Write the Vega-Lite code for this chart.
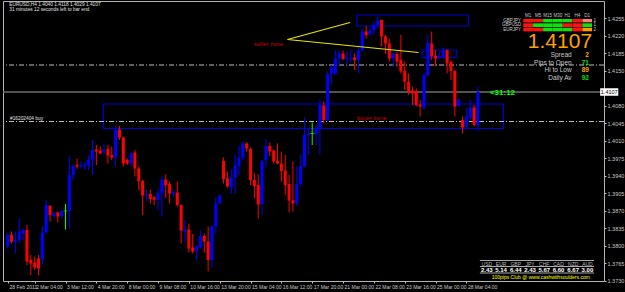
{
"$schema":"https://vega.github.io/schema/vega-lite/v6.json",
"width":601,"height":280,
"autosize":{"type":"none"},
"padding":{"left":3,"top":1,"right":21,"bottom":11},
"config":{"background":"#000000","view":{"stroke":"#b4b4b4","strokeWidth":1},
 "axis":{"grid":false,"domain":false,"tickColor":"#c0c0c0","labelColor":"#c8c8c8","labelFont":"Liberation Sans"},
 "text":{"font":"Liberation Sans"}},
"resolve":{"axis":{"x":"independent","y":"independent"}},
"datasets":{
"candles":[
{"i":0,"o":1.3798,"h":1.3826,"l":1.3794,"c":1.3821},
{"i":1,"o":1.3821,"h":1.3828,"l":1.3804,"c":1.3808},
{"i":2,"o":1.3808,"h":1.3828,"l":1.3784,"c":1.3811},
{"i":3,"o":1.3811,"h":1.3854,"l":1.3804,"c":1.3828},
{"i":4,"o":1.3824,"h":1.3834,"l":1.3811,"c":1.3831},
{"i":5,"o":1.3831,"h":1.3841,"l":1.3761,"c":1.3768},
{"i":6,"o":1.3771,"h":1.3781,"l":1.3741,"c":1.3764},
{"i":7,"o":1.3766,"h":1.3778,"l":1.3751,"c":1.3756},
{"i":8,"o":1.3774,"h":1.3781,"l":1.3741,"c":1.3754},
{"i":9,"o":1.3773,"h":1.3838,"l":1.3761,"c":1.3826},
{"i":10,"o":1.3826,"h":1.3891,"l":1.3824,"c":1.3881},
{"i":11,"o":1.3879,"h":1.3881,"l":1.3848,"c":1.3861},
{"i":12,"o":1.3859,"h":1.3868,"l":1.3856,"c":1.3864},
{"i":13,"o":1.3866,"h":1.3868,"l":1.3846,"c":1.3858},
{"i":14,"o":1.3859,"h":1.3871,"l":1.3854,"c":1.3868},
{"i":15,"o":1.3869,"h":1.3883,"l":1.3832,"c":1.3869},
{"i":16,"o":1.3869,"h":1.3978,"l":1.3834,"c":1.3941},
{"i":17,"o":1.3941,"h":1.3961,"l":1.3931,"c":1.396},
{"i":18,"o":1.3961,"h":1.3974,"l":1.3954,"c":1.3958},
{"i":19,"o":1.3958,"h":1.3968,"l":1.3954,"c":1.396},
{"i":20,"o":1.3958,"h":1.3968,"l":1.3951,"c":1.3961},
{"i":21,"o":1.396,"h":1.3981,"l":1.3951,"c":1.3972},
{"i":22,"o":1.3972,"h":1.4011,"l":1.3941,"c":1.3991},
{"i":23,"o":1.3992,"h":1.4001,"l":1.3961,"c":1.3988},
{"i":24,"o":1.399,"h":1.3998,"l":1.3983,"c":1.3984},
{"i":25,"o":1.3988,"h":1.4004,"l":1.3981,"c":1.3991},
{"i":26,"o":1.3993,"h":1.4001,"l":1.3964,"c":1.398},
{"i":27,"o":1.3981,"h":1.3998,"l":1.3971,"c":1.3976},
{"i":28,"o":1.3976,"h":1.4039,"l":1.3958,"c":1.4032},
{"i":29,"o":1.4032,"h":1.4039,"l":1.4011,"c":1.4016},
{"i":30,"o":1.4016,"h":1.4018,"l":1.3958,"c":1.3964},
{"i":31,"o":1.3971,"h":1.3974,"l":1.3961,"c":1.3964},
{"i":32,"o":1.3964,"h":1.3988,"l":1.3958,"c":1.3984},
{"i":33,"o":1.3986,"h":1.3991,"l":1.3938,"c":1.3954},
{"i":34,"o":1.3954,"h":1.3958,"l":1.3911,"c":1.3929},
{"i":35,"o":1.3929,"h":1.3931,"l":1.3861,"c":1.39},
{"i":36,"o":1.39,"h":1.3911,"l":1.3888,"c":1.3902},
{"i":37,"o":1.3903,"h":1.3912,"l":1.3884,"c":1.3893},
{"i":38,"o":1.3896,"h":1.3899,"l":1.3881,"c":1.3892},
{"i":39,"o":1.3891,"h":1.3914,"l":1.3871,"c":1.3904},
{"i":40,"o":1.3904,"h":1.3939,"l":1.3858,"c":1.3931},
{"i":41,"o":1.3932,"h":1.3942,"l":1.3895,"c":1.3921},
{"i":42,"o":1.3923,"h":1.3928,"l":1.3884,"c":1.3904},
{"i":43,"o":1.3903,"h":1.3912,"l":1.3898,"c":1.3906},
{"i":44,"o":1.3906,"h":1.3928,"l":1.3878,"c":1.3881},
{"i":45,"o":1.3881,"h":1.3882,"l":1.3804,"c":1.383},
{"i":46,"o":1.3828,"h":1.3851,"l":1.3806,"c":1.3832},
{"i":47,"o":1.3832,"h":1.3844,"l":1.3786,"c":1.3794},
{"i":48,"o":1.3796,"h":1.3823,"l":1.3784,"c":1.3788},
{"i":49,"o":1.3789,"h":1.3801,"l":1.377,"c":1.3798},
{"i":50,"o":1.3796,"h":1.383,"l":1.3794,"c":1.3819},
{"i":51,"o":1.3819,"h":1.3824,"l":1.3786,"c":1.3808},
{"i":52,"o":1.3808,"h":1.3838,"l":1.3748,"c":1.3771},
{"i":53,"o":1.3771,"h":1.3841,"l":1.3756,"c":1.3838},
{"i":54,"o":1.3838,"h":1.3896,"l":1.3824,"c":1.3884},
{"i":55,"o":1.3884,"h":1.3902,"l":1.3883,"c":1.39},
{"i":56,"o":1.3969,"h":1.3976,"l":1.3924,"c":1.3933},
{"i":57,"o":1.3934,"h":1.3948,"l":1.3916,"c":1.3918},
{"i":58,"o":1.3916,"h":1.3951,"l":1.3904,"c":1.3936},
{"i":59,"o":1.3936,"h":1.3982,"l":1.3904,"c":1.396},
{"i":60,"o":1.3959,"h":1.3999,"l":1.3941,"c":1.3976},
{"i":61,"o":1.3976,"h":1.4008,"l":1.3971,"c":1.4004},
{"i":62,"o":1.4004,"h":1.4006,"l":1.3988,"c":1.3994},
{"i":63,"o":1.3993,"h":1.3996,"l":1.3921,"c":1.3931},
{"i":64,"o":1.3931,"h":1.3944,"l":1.3894,"c":1.3919},
{"i":65,"o":1.3921,"h":1.3942,"l":1.3854,"c":1.3882},
{"i":66,"o":1.3883,"h":1.3971,"l":1.3861,"c":1.3969},
{"i":67,"o":1.3971,"h":1.4014,"l":1.3956,"c":1.3999},
{"i":68,"o":1.3999,"h":1.4006,"l":1.3979,"c":1.3988},
{"i":69,"o":1.399,"h":1.3992,"l":1.3964,"c":1.3968},
{"i":70,"o":1.3969,"h":1.4004,"l":1.3963,"c":1.3964},
{"i":71,"o":1.3964,"h":1.3988,"l":1.3928,"c":1.3949},
{"i":72,"o":1.395,"h":1.3981,"l":1.3901,"c":1.3921},
{"i":73,"o":1.3923,"h":1.3941,"l":1.3866,"c":1.389},
{"i":74,"o":1.389,"h":1.3968,"l":1.3868,"c":1.3884},
{"i":75,"o":1.3884,"h":1.3958,"l":1.3879,"c":1.3923},
{"i":76,"o":1.3923,"h":1.3981,"l":1.3918,"c":1.3959},
{"i":77,"o":1.3958,"h":1.4056,"l":1.3956,"c":1.4021},
{"i":78,"o":1.4021,"h":1.4034,"l":1.3981,"c":1.4024},
{"i":79,"o":1.4024,"h":1.4046,"l":1.4001,"c":1.4024},
{"i":80,"o":1.4023,"h":1.4041,"l":1.4001,"c":1.4034},
{"i":81,"o":1.4034,"h":1.4092,"l":1.3982,"c":1.4081},
{"i":82,"o":1.408,"h":1.4088,"l":1.4044,"c":1.4051},
{"i":83,"o":1.4051,"h":1.4148,"l":1.4048,"c":1.4143},
{"i":84,"o":1.4144,"h":1.4161,"l":1.4124,"c":1.4156},
{"i":85,"o":1.4143,"h":1.4191,"l":1.4141,"c":1.4174},
{"i":86,"o":1.4174,"h":1.4191,"l":1.4161,"c":1.4184},
{"i":87,"o":1.4184,"h":1.419,"l":1.4171,"c":1.4173},
{"i":88,"o":1.4173,"h":1.4188,"l":1.4161,"c":1.4176},
{"i":89,"o":1.4174,"h":1.4192,"l":1.4166,"c":1.4176},
{"i":90,"o":1.4176,"h":1.4184,"l":1.4151,"c":1.4171},
{"i":91,"o":1.4171,"h":1.4201,"l":1.4144,"c":1.419},
{"i":92,"o":1.419,"h":1.4234,"l":1.4188,"c":1.4228},
{"i":93,"o":1.4228,"h":1.4239,"l":1.4214,"c":1.4221},
{"i":94,"o":1.4223,"h":1.4238,"l":1.4218,"c":1.423},
{"i":95,"o":1.423,"h":1.4248,"l":1.4221,"c":1.4241},
{"i":96,"o":1.4241,"h":1.4258,"l":1.4234,"c":1.425},
{"i":97,"o":1.4251,"h":1.4252,"l":1.4198,"c":1.4218},
{"i":98,"o":1.4218,"h":1.4221,"l":1.4184,"c":1.4204},
{"i":99,"o":1.4204,"h":1.4214,"l":1.4168,"c":1.4174},
{"i":100,"o":1.4174,"h":1.4188,"l":1.4158,"c":1.4184},
{"i":101,"o":1.4183,"h":1.4188,"l":1.4158,"c":1.4168},
{"i":102,"o":1.4171,"h":1.4221,"l":1.4144,"c":1.4148},
{"i":103,"o":1.4149,"h":1.4168,"l":1.4111,"c":1.4128},
{"i":104,"o":1.4128,"h":1.4144,"l":1.4101,"c":1.4108},
{"i":105,"o":1.411,"h":1.4118,"l":1.4081,"c":1.4104},
{"i":106,"o":1.4109,"h":1.4114,"l":1.4078,"c":1.4081},
{"i":107,"o":1.4082,"h":1.4091,"l":1.4058,"c":1.4078},
{"i":108,"o":1.4076,"h":1.4146,"l":1.4071,"c":1.4141},
{"i":109,"o":1.4141,"h":1.4221,"l":1.4138,"c":1.4206},
{"i":110,"o":1.4204,"h":1.4228,"l":1.4171,"c":1.4178},
{"i":111,"o":1.4179,"h":1.4191,"l":1.4158,"c":1.4174},
{"i":112,"o":1.4176,"h":1.4188,"l":1.4172,"c":1.4179},
{"i":113,"o":1.4178,"h":1.4196,"l":1.4174,"c":1.4191},
{"i":114,"o":1.4191,"h":1.4192,"l":1.4144,"c":1.4164},
{"i":115,"o":1.4168,"h":1.4168,"l":1.4131,"c":1.4149},
{"i":116,"o":1.4149,"h":1.4151,"l":1.4058,"c":1.4078},
{"i":117,"o":1.4079,"h":1.4094,"l":1.4078,"c":1.4092},
{"i":118,"o":1.4051,"h":1.4058,"l":1.4024,"c":1.4036},
{"i":119,"o":1.4038,"h":1.4074,"l":1.4034,"c":1.4058},
{"i":120,"o":1.4056,"h":1.4091,"l":1.4051,"c":1.4076},
{"i":121,"o":1.4076,"h":1.4081,"l":1.4038,"c":1.4041},
{"i":122,"o":1.404,"h":1.4118,"l":1.4029,"c":1.4107}
],
"cells":[
{"x1":133.75,"x2":136.3,"y1":1.4253,"y2":1.42464,"s":"dn"},
{"x1":136.3,"x2":138.9,"y1":1.4253,"y2":1.42464,"s":"dn"},
{"x1":138.9,"x2":141.4,"y1":1.4253,"y2":1.42464,"s":"up"},
{"x1":141.4,"x2":144.0,"y1":1.4253,"y2":1.42464,"s":"up"},
{"x1":144.0,"x2":146.5,"y1":1.4253,"y2":1.42464,"s":"up"},
{"x1":146.5,"x2":149.1,"y1":1.4253,"y2":1.42464,"s":"dn"},
{"x1":149.1,"x2":151.6,"y1":1.4253,"y2":1.42464,"s":"wk"},
{"x1":133.75,"x2":136.3,"y1":1.42444,"y2":1.4237,"s":"dn"},
{"x1":136.3,"x2":138.9,"y1":1.42444,"y2":1.4237,"s":"up"},
{"x1":138.9,"x2":141.4,"y1":1.42444,"y2":1.4237,"s":"up"},
{"x1":141.4,"x2":144.0,"y1":1.42444,"y2":1.4237,"s":"up"},
{"x1":144.0,"x2":146.5,"y1":1.42444,"y2":1.4237,"s":"dn"},
{"x1":146.5,"x2":149.1,"y1":1.42444,"y2":1.4237,"s":"dn"},
{"x1":149.1,"x2":151.6,"y1":1.42444,"y2":1.4237,"s":"up"},
{"x1":133.75,"x2":136.3,"y1":1.42356,"y2":1.42284,"s":"dn"},
{"x1":136.3,"x2":138.9,"y1":1.42356,"y2":1.42284,"s":"dn"},
{"x1":138.9,"x2":141.4,"y1":1.42356,"y2":1.42284,"s":"up"},
{"x1":141.4,"x2":144.0,"y1":1.42356,"y2":1.42284,"s":"up"},
{"x1":144.0,"x2":146.5,"y1":1.42356,"y2":1.42284,"s":"up"},
{"x1":146.5,"x2":149.1,"y1":1.42356,"y2":1.42284,"s":"dn"},
{"x1":149.1,"x2":151.6,"y1":1.42356,"y2":1.42284,"s":"or"}
]
},
"layer":[
{"data":{"values":[{"x1":24.8,"x2":128.6,"y1":1.4083,"y2":1.4034},{"x1":90.6,"x2":119.5,"y1":1.4261,"y2":1.4239},{"x1":107.5,"x2":116.4,"y1":1.4191,"y2":1.4176}]},
 "mark":{"type":"rect","fillOpacity":0,"stroke":"#0000d0","strokeWidth":1.2},
 "encoding":{"x":{"field":"x1","type":"quantitative","axis":null,"title":null},"x2":{"field":"x2"},"y":{"field":"y1","type":"quantitative","axis":null,"title":null},"y2":{"field":"y2"}}},
{"data":{"values":[{"p":1.4161},{"p":1.4048}]},
 "mark":{"type":"rule","color":"#bdbdbd","strokeDash":[5,2,1,2],"strokeWidth":1},
 "encoding":{"y":{"field":"p","type":"quantitative","axis":null,"title":null}}},
{"data":{"values":[{"p":1.4107}]},
 "mark":{"type":"rule","color":"#6e6e6e","strokeWidth":1.3},
 "encoding":{"y":{"field":"p","type":"quantitative","axis":null,"title":null}}},
{"data":{"name":"candles"},
 "mark":{"type":"rule","strokeWidth":1},
 "encoding":{
  "x":{"field":"i","type":"quantitative","title":null,"scale":{"domain":[0.08,153.4],"nice":false,"zero":false},
   "axis":{"values":[0.1,7,15,23,31,39,47,55,63,71,79,87,95,103,111,119],"labelExpr":"datum.value < 1 ? '28 Feb 2011' : ['2 Mar 04:00','3 Mar 12:00','4 Mar 20:00','8 Mar 00:00','9 Mar 08:00','10 Mar 16:00','13 Mar 20:00','15 Mar 04:00','16 Mar 12:00','17 Mar 20:00','21 Mar 00:00','22 Mar 08:00','23 Mar 16:00','25 Mar 00:00','28 Mar 04:00'][round((datum.value-7)/8)]","labelAlign":"left","labelBaseline":"top","labelFontSize":5,"labelPadding":1,"labelOffset":1,"tickSize":2,"labelOverlap":false,"labelBound":false,"labelFlush":false,"title":null}},
  "y":{"field":"l","type":"quantitative","title":null,"scale":{"domain":[1.3729,1.4289],"nice":false,"zero":false},
   "axis":{"orient":"right","values":[1.4255,1.422,1.4185,1.415,1.408,1.4045,1.401,1.3975,1.394,1.3905,1.387,1.3835,1.38,1.3765,1.373],"format":".4f","labelFontSize":5.5,"labelPadding":1,"tickSize":2,"labelOverlap":false,"labelBound":false,"labelFlush":false,"title":null}},
  "y2":{"field":"h"},
  "color":{"condition":[{"test":"datum.c > datum.o","value":"#0000ff"},{"test":"datum.c < datum.o","value":"#ff0000"}],"value":"#00ff00"}}},
{"data":{"name":"candles"},
 "mark":{"type":"bar","size":3},
 "encoding":{
  "x":{"field":"i","type":"quantitative","axis":null,"title":null},
  "y":{"field":"o","type":"quantitative","axis":null,"title":null},
  "y2":{"field":"c"},
  "color":{"condition":[{"test":"datum.c > datum.o","value":"#0000ff"},{"test":"datum.c < datum.o","value":"#ff0000"}],"value":"#00ff00"}}},
{"data":{"name":"candles"},
 "transform":[{"filter":"datum.o == datum.c"}],
 "mark":{"type":"tick","orient":"horizontal","size":4,"thickness":1,"color":"#00ff00"},
 "encoding":{
  "x":{"field":"i","type":"quantitative","axis":null,"title":null},
  "y":{"field":"o","type":"quantitative","axis":null,"title":null}}},
{"data":{"values":[{"x1":72.6,"y1":1.4212,"x2":88.8,"y2":1.4246},{"x1":72.6,"y1":1.4212,"x2":106.6,"y2":1.4186}]},
 "mark":{"type":"rule","color":"#e6e600","strokeWidth":1.2},
 "encoding":{"x":{"field":"x1","type":"quantitative","axis":null,"title":null},"x2":{"field":"x2"},"y":{"field":"y1","type":"quantitative","axis":null,"title":null},"y2":{"field":"y2"}}},
{"data":{"name":"cells"},
 "mark":{"type":"rect"},
 "encoding":{"x":{"field":"x1","type":"quantitative","axis":null,"title":null},"x2":{"field":"x2"},"y":{"field":"y1","type":"quantitative","axis":null,"title":null},"y2":{"field":"y2"},
  "color":{"field":"s","type":"nominal","legend":null,"scale":{"domain":["dn","up","wk","or"],"range":["#ff1010","#10e010","#ff8070","#ff9a00"]}}}},
{"data":{"values":[{"x1":122.5,"x2":152.1,"p":1.377},{"x1":122.5,"x2":152.1,"p":1.3758},{"x1":122.5,"x2":152.1,"p":1.3745}]},
 "mark":{"type":"rule","color":"#a8a8a8","strokeWidth":1},
 "encoding":{"x":{"field":"x1","type":"quantitative","axis":null,"title":null},"x2":{"field":"x2"},"y":{"field":"p","type":"quantitative","axis":null,"title":null}}},
{"data":{"values":[{"x":63.9,"p":1.4203,"t":"seller zone"},{"x":90.6,"p":1.4056,"t":"buyer zone"}]},
 "mark":{"type":"text","align":"left","baseline":"middle","fontSize":6,"color":"#d00000"},
 "encoding":{"x":{"field":"x","type":"quantitative","axis":null,"title":null},"y":{"field":"p","type":"quantitative","axis":null,"title":null},"text":{"field":"t"}}},
{"data":{"values":[{"x":125.1,"p":1.4106,"t":"<31:12"}]},
 "mark":{"type":"text","align":"left","baseline":"middle","fontSize":8,"fontWeight":"bold","color":"#00ff00"},
 "encoding":{"x":{"field":"x","type":"quantitative","axis":null,"title":null},"y":{"field":"p","type":"quantitative","axis":null,"title":null},"text":{"field":"t"}}},
{"data":{"values":[{"x":0.6,"p":1.4054,"t":"#16202404 buy"},{"x":0.4,"p":1.4282,"t":"EURUSD,H4  1.4040 1.4118 1.4029 1.4107"},{"x":0.4,"p":1.4271,"t":"31 minutes 12 seconds left to bar end"}]},
 "mark":{"type":"text","align":"left","baseline":"middle","fontSize":4.8,"color":"#e0e0e0"},
 "encoding":{"x":{"field":"x","type":"quantitative","axis":null,"title":null},"y":{"field":"p","type":"quantitative","axis":null,"title":null},"text":{"field":"t"}}},
{"data":{"values":[{"x":151.6,"p":1.4195,"t":"1.4107"}]},
 "mark":{"type":"text","align":"right","baseline":"alphabetic","fontSize":21,"color":"#ffa200"},
 "encoding":{"x":{"field":"x","type":"quantitative","axis":null,"title":null},"y":{"field":"p","type":"quantitative","axis":null,"title":null},"text":{"field":"t"}}},
{"data":{"values":[{"x":146.3,"p":1.4181,"t":"Spread"},{"x":146.3,"p":1.4166,"t":"Pips to Open"},{"x":146.3,"p":1.4151,"t":"Hi to Low"},{"x":146.3,"p":1.4136,"t":"Daily Av"}]},
 "mark":{"type":"text","align":"right","baseline":"middle","fontSize":6.5,"color":"#c8c8c8"},
 "encoding":{"x":{"field":"x","type":"quantitative","axis":null,"title":null},"y":{"field":"p","type":"quantitative","axis":null,"title":null},"text":{"field":"t"}}},
{"data":{"values":[{"x":150.8,"p":1.4181,"t":"2"},{"x":150.8,"p":1.4151,"t":"89"}]},
 "mark":{"type":"text","align":"right","baseline":"middle","fontSize":6.5,"fontWeight":"bold","color":"#ffa200"},
 "encoding":{"x":{"field":"x","type":"quantitative","axis":null,"title":null},"y":{"field":"p","type":"quantitative","axis":null,"title":null},"text":{"field":"t"}}},
{"data":{"values":[{"x":150.8,"p":1.4166,"t":"71"},{"x":150.8,"p":1.4136,"t":"92"}]},
 "mark":{"type":"text","align":"right","baseline":"middle","fontSize":6.5,"fontWeight":"bold","color":"#00e000"},
 "encoding":{"x":{"field":"x","type":"quantitative","axis":null,"title":null},"y":{"field":"p","type":"quantitative","axis":null,"title":null},"text":{"field":"t"}}},
{"data":{"values":[{"x":133.2,"p":1.425,"t":"GBPJPY"},{"x":133.2,"p":1.4241,"t":"GBPUSD"},{"x":133.2,"p":1.4232,"t":"EURJPY"}]},
 "mark":{"type":"text","align":"right","baseline":"middle","fontSize":4.5,"color":"#d0d0d0"},
 "encoding":{"x":{"field":"x","type":"quantitative","axis":null,"title":null},"y":{"field":"p","type":"quantitative","axis":null,"title":null},"text":{"field":"t"}}},
{"data":{"values":[{"x":135.0,"p":1.4259,"t":"M1"},{"x":137.6,"p":1.4259,"t":"M5"},{"x":140.1,"p":1.4259,"t":"M15"},{"x":142.7,"p":1.4259,"t":"M30"},{"x":145.2,"p":1.4259,"t":"H1"},{"x":147.8,"p":1.4259,"t":"H4"},{"x":150.3,"p":1.4259,"t":"D1"},{"x":152.3,"p":1.425,"t":"1"},{"x":152.3,"p":1.4241,"t":"1"},{"x":152.3,"p":1.4232,"t":"2"}]},
 "mark":{"type":"text","align":"center","baseline":"middle","fontSize":4.5,"color":"#c8c8c8"},
 "encoding":{"x":{"field":"x","type":"quantitative","axis":null,"title":null},"y":{"field":"p","type":"quantitative","axis":null,"title":null},"text":{"field":"t"}}},
{"data":{"values":[{"x":124.3,"t":"USD"},{"x":128.0,"t":"EUR"},{"x":131.8,"t":"GBP"},{"x":135.5,"t":"JPY"},{"x":139.2,"t":"CHF"},{"x":142.9,"t":"CAD"},{"x":146.7,"t":"NZD"},{"x":150.4,"t":"AUD"}]},
 "mark":{"type":"text","align":"center","baseline":"middle","fontSize":5,"color":"#bcbcbc"},
 "encoding":{"x":{"field":"x","type":"quantitative","axis":null,"title":null},"y":{"datum":1.3763,"type":"quantitative","axis":null,"title":null},"text":{"field":"t"}}},
{"data":{"values":[{"x":124.3,"t":"2.43"},{"x":128.0,"t":"5.14"},{"x":131.8,"t":"6.44"},{"x":135.5,"t":"2.43"},{"x":139.2,"t":"5.67"},{"x":142.9,"t":"6.60"},{"x":146.7,"t":"6.67"},{"x":150.4,"t":"3.00"}]},
 "mark":{"type":"text","align":"center","baseline":"middle","fontSize":6,"fontWeight":"bold","color":"#ffffff"},
 "encoding":{"x":{"field":"x","type":"quantitative","axis":null,"title":null},"y":{"datum":1.3751,"type":"quantitative","axis":null,"title":null},"text":{"field":"t"}}},
{"data":{"values":[{"x":138.3,"p":1.3738,"t":"100pips Club @ www.cashwithsoulders.com"}]},
 "mark":{"type":"text","align":"center","baseline":"middle","fontSize":5,"color":"#ffff00"},
 "encoding":{"x":{"field":"x","type":"quantitative","axis":null,"title":null},"y":{"field":"p","type":"quantitative","axis":null,"title":null},"text":{"field":"t"}}},
{"data":{"values":[{"x1":153.7,"x2":158.4,"y1":1.41145,"y2":1.40995}]},
 "mark":{"type":"rect","color":"#ffffff","clip":false},
 "encoding":{"x":{"field":"x1","type":"quantitative","axis":null,"title":null},"x2":{"field":"x2"},"y":{"field":"y1","type":"quantitative","axis":null,"title":null},"y2":{"field":"y2"}}},
{"data":{"values":[{"x":156.05,"p":1.4107,"t":"1.4107"}]},
 "mark":{"type":"text","align":"center","baseline":"middle","fontSize":5.5,"color":"#000000","clip":false},
 "encoding":{"x":{"field":"x","type":"quantitative","axis":null,"title":null},"y":{"field":"p","type":"quantitative","axis":null,"title":null},"text":{"field":"t"}}}
]
}
